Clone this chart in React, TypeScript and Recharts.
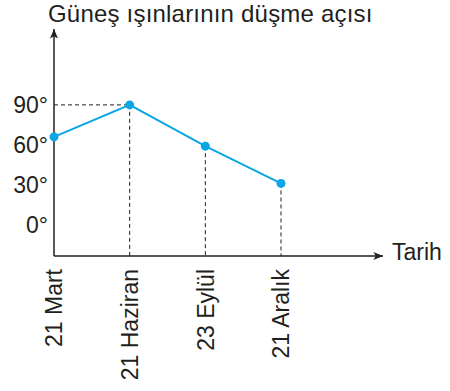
import React from 'react';
import { LineChart, Line, XAxis, YAxis, ReferenceLine, Label } from 'recharts';

const categories = ['21 Mart', '21 Haziran', '23 Eylül', '21 Aralık'];
const angles = [66, 90, 59, 31];
const yTicks = [0, 30, 60, 90];
const title = 'Güneş ışınlarının düşme açısı';
const xTitle = 'Tarih';

const data = categories.map((c, i) => ({ date: c, angle: angles[i] }));

const Y_MIN = -23.5;
const Y_MAX = 147;
const FONT = 'Liberation Sans, Arial, Helvetica, sans-serif';
const INK = '#231f20';
const BLUE = '#0aa6e6';

const XTick = (props: any) => {
  const { x, y, payload } = props;
  return (
    <text
      x={x}
      y={y}
      dy="0.36em"
      transform={`rotate(-90, ${x}, ${y})`}
      textAnchor="end"
      fontSize={23}
      fontFamily={FONT}
      fill={INK}
    >
      {payload.value}
    </text>
  );
};

export default function App() {
  return (
    <div style={{ position: 'absolute', left: 0, top: 0, background: '#fff' }}>
      <LineChart
        width={450}
        height={391}
        data={data}
        margin={{ top: 29, right: 67, bottom: 0, left: 0 }}
      >
        <defs>
          <marker
            id="arrowHead"
            viewBox="0 0 12 10"
            refX="12"
            refY="5"
            markerWidth="12"
            markerHeight="8"
            markerUnits="userSpaceOnUse"
            orient="auto-start-reverse"
          >
            <path d="M0,0 L12,5 L0,10 L3,5 z" fill={INK} />
          </marker>
        </defs>
        <XAxis
          dataKey="date"
          type="category"
          height={135}
          padding={{ left: 0, right: 102 }}
          axisLine={{ stroke: INK, strokeWidth: 1.5, markerEnd: 'url(#arrowHead)' }}
          tickLine={false}
          tickSize={6}
          tickMargin={7}
          interval={0}
          tick={<XTick />}
        >
          <Label
            content={(p: any) => {
              const vb = p.viewBox;
              return (
                <text
                  x={vb.x + vb.width + 9}
                  y={vb.y + 4}
                  fontSize={23}
                  fontFamily={FONT}
                  fill={INK}
                >
                  {xTitle}
                </text>
              );
            }}
          />
        </XAxis>
        <YAxis
          type="number"
          width={54}
          domain={[Y_MIN, Y_MAX]}
          ticks={yTicks}
          allowDataOverflow
          axisLine={{ stroke: INK, strokeWidth: 1.5, markerStart: 'url(#arrowHead)' }}
          tickLine={false}
          tickSize={6}
          tickMargin={0}
          tickFormatter={(v: number) => `${v}°`}
          tick={{ fontSize: 23, fontFamily: FONT, fill: INK }}
        >
          <Label
            content={(p: any) => {
              const vb = p.viewBox;
              return (
                <text
                  x={vb.x + vb.width - 6}
                  y={vb.y - 7}
                  fontSize={24}
                  fontFamily={FONT}
                  fill={INK}
                  letterSpacing={0.2}
                >
                  {title}
                </text>
              );
            }}
          />
        </YAxis>
        <ReferenceLine
          segment={[
            { x: categories[0], y: angles[1] },
            { x: categories[1], y: angles[1] },
          ]}
          stroke={INK}
          strokeDasharray="4 3"
          strokeWidth={1}
        />
        {categories.slice(1).map((c, i) => (
          <ReferenceLine
            key={c}
            segment={[
              { x: c, y: angles[i + 1] },
              { x: c, y: Y_MIN },
            ]}
            stroke={INK}
            strokeDasharray="4 3"
            strokeWidth={1}
          />
        ))}
        <Line
          type="linear"
          dataKey="angle"
          stroke={BLUE}
          strokeWidth={2}
          dot={{ r: 4.5, fill: BLUE, stroke: BLUE, strokeWidth: 0 }}
          activeDot={false}
          isAnimationActive={false}
        />
      </LineChart>
    </div>
  );
}
